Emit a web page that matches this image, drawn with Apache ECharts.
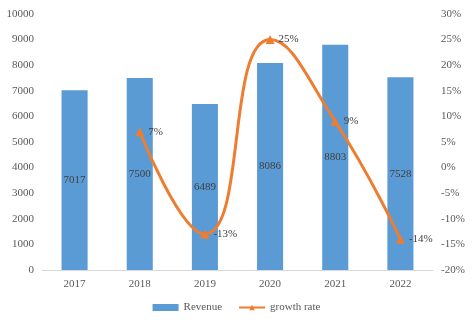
<!DOCTYPE html>
<html><head><meta charset="utf-8">
<script src="https://cdn.jsdelivr.net/npm/echarts@6/dist/echarts.min.js"></script>
<style>html,body{margin:0;padding:0;background:#fff}#c{width:473px;height:326px}</style>
</head><body><div id="c"></div>
<script>
var categories = ['2017','2018','2019','2020','2021','2022'];
var revenue = [7017, 7500, 6489, 8086, 8803, 7528];
var growth = [null, 7, -13, 25, 9, -14];
var chart = echarts.init(document.getElementById('c'));
var font = '"Liberation Serif", "Times New Roman", serif';
chart.setOption({
  animation: false,
  textStyle: {fontFamily: font},
  grid: {left: 42, right: 40, top: 14, bottom: 56},
  legend: {
    bottom: 8, left: 'center', itemGap: 16, itemWidth: 26, itemHeight: 7,
    textStyle: {fontFamily: font, fontSize: 11, color: '#595959'},
    data: [{name: 'Revenue', icon: 'rect'}, {name: 'growth rate'}]
  },
  xAxis: {
    type: 'category', data: categories,
    axisLine: {lineStyle: {color: '#d9d9d9'}},
    axisTick: {show: false},
    axisLabel: {fontFamily: font, fontSize: 11, color: '#595959', margin: 9}
  },
  yAxis: [{
    type: 'value', min: 0, max: 10000, interval: 1000,
    splitLine: {show: false},
    axisLabel: {fontFamily: font, fontSize: 11, color: '#595959', margin: 8, formatter: function (v) { return String(v); }}
  }, {
    type: 'value', min: -20, max: 30, interval: 5,
    splitLine: {show: false},
    axisLabel: {fontFamily: font, fontSize: 11, color: '#595959', margin: 8, formatter: '{value}%'}
  }],
  series: [{
    name: 'Revenue', type: 'bar', data: revenue, barWidth: '40%',
    itemStyle: {color: '#5b9bd5'},
    label: {show: true, position: 'inside', fontFamily: font, fontSize: 11, color: '#404040'}
  }, {
    name: 'growth rate', type: 'line', yAxisIndex: 1, data: growth, smooth: 0.5,
    connectNulls: false,
    symbol: 'triangle', symbolSize: 9,
    lineStyle: {color: '#ed7d31', width: 3},
    itemStyle: {color: '#ed7d31'},
    label: {show: true, position: 'right', distance: 4, fontFamily: font, fontSize: 11, color: '#404040', formatter: '{c}%'}
  }]
});
</script></body></html>
